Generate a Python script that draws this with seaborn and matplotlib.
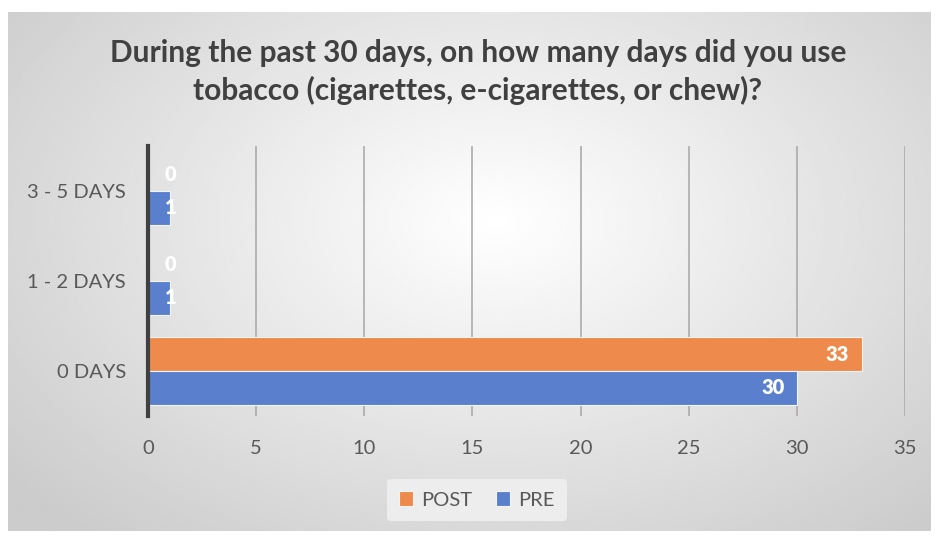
import numpy as np
import pandas as pd
import matplotlib
matplotlib.use("Agg")
import matplotlib.pyplot as plt
import seaborn as sns

categories = ["3 - 5 DAYS", "1 - 2 DAYS", "0 DAYS"]
pre_values = [1, 1, 30]
post_values = [0, 0, 33]
series = ["POST", "PRE"]
x_ticks = [0, 5, 10, 15, 20, 25, 30, 35]
title = "During the past 30 days, on how many days did you use\ntobacco (cigarettes, e-cigarettes, or chew)?"

df = pd.DataFrame({
    "category": categories * 2,
    "value": post_values + pre_values,
    "series": ["POST"] * 3 + ["PRE"] * 3,
})

sns.set_style("white")
plt.rcParams['font.family'] = ['Lato', 'DejaVu Sans']
text_col = "#595959"

W, H = 937, 536
fig = plt.figure(figsize=(W / 100, H / 100), dpi=100)
fig.patch.set_facecolor("white")

# radial gradient background of the chart area
bx0, by0, bx1, by1 = 8, 12, 931, 531
bg = fig.add_axes([bx0 / W, 1 - by1 / H, (bx1 - bx0) / W, (by1 - by0) / H])
yy, xx = np.mgrid[0:200, 0:360]
r = np.sqrt(((xx - 190) / 230.0) ** 2 + ((yy - 80) / 150.0) ** 2)
shade = np.clip(1.0 - 0.19 * r, 0.80, 1.0)
bg.imshow(shade, cmap="gray", vmin=0, vmax=1, aspect="auto", interpolation="bilinear")
bg.set_axis_off()

ax = fig.add_axes([148 / W, 1 - 416 / H, (905 - 148) / W, (416 - 146) / H])
ax.patch.set_alpha(0)
palette = {"POST": "#EE8B4C", "PRE": "#5A80CD"}
sns.barplot(data=df, x="value", y="category", hue="series", hue_order=series,
            order=categories, orient="h", palette=palette, width=0.75,
            saturation=1, edgecolor="#f4f4f4", linewidth=0.8, ax=ax, zorder=3)

ax.set_xlim(0, 35)
ax.set_ylim(2.5, -0.5)
ax.set_xticks(x_ticks)
ax.set_xticklabels([str(t) for t in x_ticks])
ax.grid(axis="x", color="#a6a6a6", linewidth=1.1, zorder=0)
ax.set_axisbelow(True)
for s in ["top", "right", "bottom"]:
    ax.spines[s].set_visible(False)
ax.spines["left"].set_color("#404040")
ax.spines["left"].set_linewidth(3)
ax.spines["left"].set_zorder(4)
ax.tick_params(axis="x", length=0, pad=17, labelsize=14.5, labelcolor=text_col)
ax.tick_params(axis="y", length=0, pad=16, labelsize=14.5, labelcolor=text_col)
ax.set_xlabel("")
ax.set_ylabel("")

# data labels
for cont in ax.containers:
    for p in cont:
        w = p.get_width()
        yc = p.get_y() + p.get_height() / 2
        if w < 2:
            ax.text(1.05, yc, f"{w:.0f}", ha="center", va="center", color="white",
                    fontsize=14.5, fontweight="heavy", zorder=5)
        else:
            ax.annotate(f"{w:.0f}", (w, yc), xytext=(-9, 0), textcoords="offset points",
                        ha="right", va="center", color="white", fontsize=14.5,
                        fontweight="heavy", zorder=5)

fig.text(478 / W, 1 - 72 / H, title, ha="center", va="center", fontsize=21.5,
         fontweight="bold", color="#404040", linespacing=1.4)

leg = ax.legend(loc="center", bbox_to_anchor=(477 / W, 1 - 500 / H),
                bbox_transform=fig.transFigure, ncol=2, frameon=True,
                fontsize=14.5, handlelength=0.7, handleheight=0.7,
                handletextpad=0.4, columnspacing=1.2, borderpad=0.6)
leg.get_frame().set_facecolor("#ededed")
leg.get_frame().set_edgecolor("none")
leg.get_frame().set_alpha(1)
for t in leg.get_texts():
    t.set_color(text_col)

fig.savefig("out.png", dpi=100)
